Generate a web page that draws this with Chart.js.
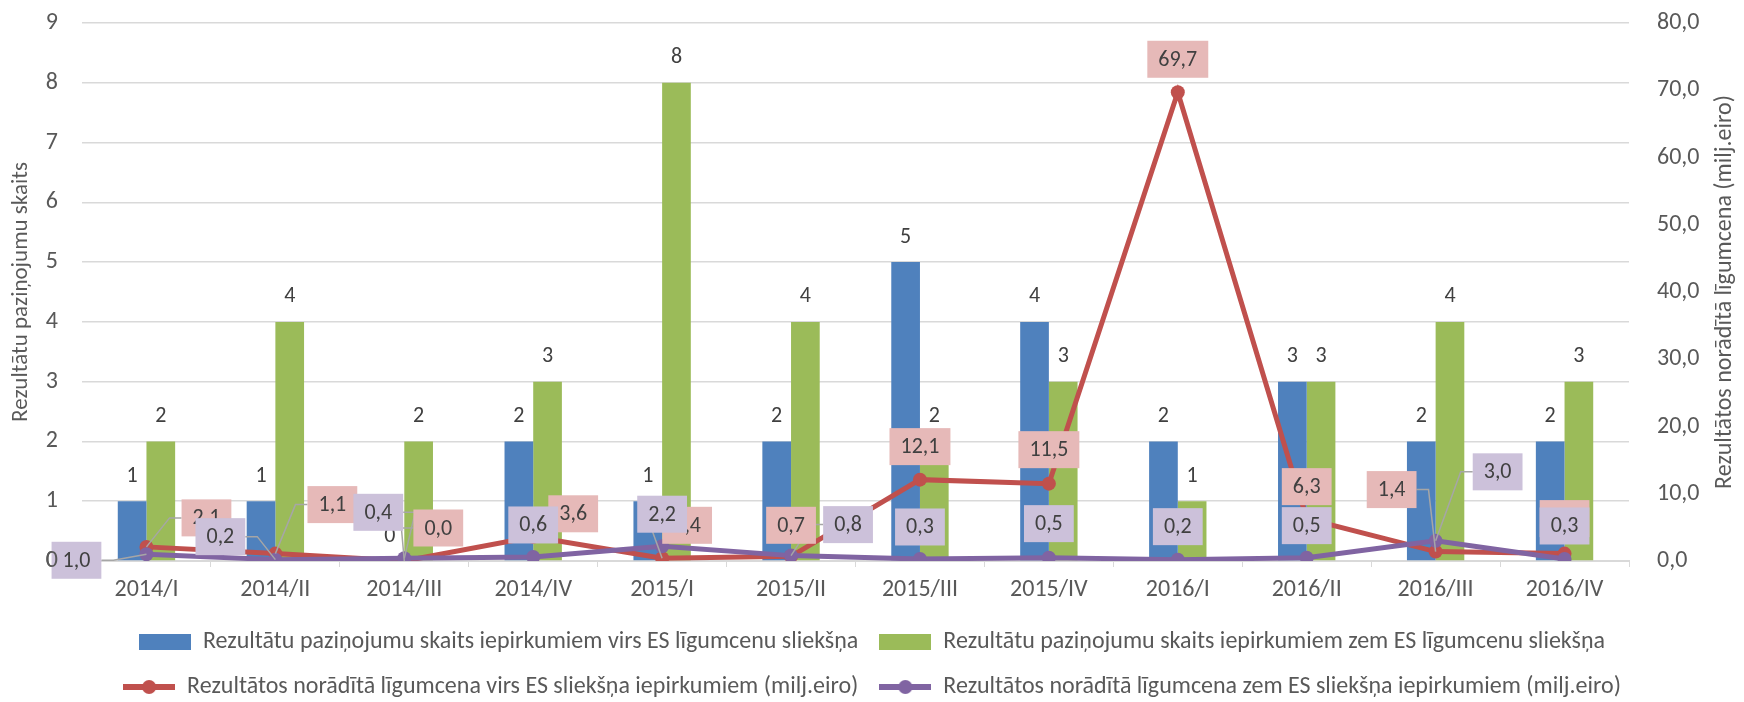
<!DOCTYPE html>
<html>
<head>
<meta charset="utf-8">
<script src="https://cdn.jsdelivr.net/npm/chart.js@4"></script>
<style>
  html, body { margin: 0; padding: 0; background: #fff; }
</style>
</head>
<body>
<canvas id="myChart" width="1744" height="702"></canvas>
<script>
var quarters = ['2014/I', '2014/II', '2014/III', '2014/IV', '2015/I', '2015/II', '2015/III', '2015/IV', '2016/I', '2016/II', '2016/III', '2016/IV'];
var countAbove = [1, 1, 0, 2, 1, 2, 5, 4, 2, 3, 2, 2];
var countBelow = [2, 4, 2, 3, 8, 4, 2, 3, 1, 3, 4, 3];
var priceAbove = [2.1, 1.1, 0.0, 3.6, 0.4, 0.7, 12.1, 11.5, 69.7, 6.3, 1.4, 1.1];
var priceBelow = [1.0, 0.2, 0.4, 0.6, 2.2, 0.8, 0.3, 0.5, 0.2, 0.5, 3.0, 0.3];

// where each value box sits relative to its point (px), like the Excel callouts
var aboveLabelShift = [[60, -29], [57, -49], [34, -33], [40, -23], [25, -33], [0, -31], [0, -33], [0, -34], [0, -33], [0, -32], [-44, -62], [0, -35]];
var belowLabelShift = [[-70, 6], [-55, -23], [-26, -46], [0, -32], [0, -32], [57, -31], [0, -32], [0, -34], [0, -33], [0, -32], [62, -69], [0, -33]];

var FONT = 'Carlito, Lato, sans-serif';
var fmt = function (v) { return v.toFixed(1).replace('.', ','); };

function swatch(color, isLine) {
    var c = document.createElement('canvas');
    c.width = 52; c.height = 16;
    var g = c.getContext('2d');
    g.fillStyle = color;
    if (isLine) {
        g.fillRect(0, 5, 52, 6);
        g.beginPath();
        g.arc(26, 8, 7, 0, Math.PI * 2);
        g.fill();
    } else {
        g.fillRect(0, 0, 52, 16);
    }
    return c;
}

var valueLabels = {
    id: 'valueLabels',
    afterDatasetsDraw: function (chart) {
        var ctx = chart.ctx;
        ctx.save();
        ctx.font = '22px ' + FONT;
        ctx.textAlign = 'center';
        ctx.textBaseline = 'middle';
        ctx.fillStyle = '#404040';
        [0, 1].forEach(function (di) {
            chart.getDatasetMeta(di).data.forEach(function (bar, i) {
                ctx.fillText(String(chart.data.datasets[di].data[i]), bar.x, bar.y - 25);
            });
        });

        var boxes = [];
        [[2, aboveLabelShift, '#E6B9B8'], [3, belowLabelShift, '#CCC1DA']].forEach(function (s) {
            chart.getDatasetMeta(s[0]).data.forEach(function (pt, i) {
                var txt = fmt(chart.data.datasets[s[0]].data[i]);
                var w = ctx.measureText(txt).width + 22, h = 37;
                boxes.push({txt: txt, fill: s[2], px: pt.x, py: pt.y, dx: s[1][i][0],
                    cx: pt.x + s[1][i][0], cy: pt.y + s[1][i][1], w: w, h: h});
            });
        });

        // leader lines
        ctx.strokeStyle = '#A6A6A6';
        ctx.lineWidth = 1.5;
        boxes.forEach(function (b) {
            if (b.dx === 0) return;
            var hw = b.w / 2;
            ctx.beginPath();
            if (b.dx > hw) {
                ctx.moveTo(b.cx - hw, b.cy);
                ctx.lineTo(b.cx - hw - 12, b.cy);
            } else if (b.dx < -hw) {
                ctx.moveTo(b.cx + hw, b.cy);
                ctx.lineTo(b.cx + hw + 12, b.cy);
            } else {
                ctx.moveTo(b.cx, b.cy + b.h / 2);
            }
            ctx.lineTo(b.px, b.py);
            ctx.stroke();
        });

        boxes.forEach(function (b) {
            ctx.fillStyle = b.fill;
            ctx.fillRect(b.cx - b.w / 2, b.cy - b.h / 2, b.w, b.h);
            ctx.fillStyle = '#404040';
            ctx.fillText(b.txt, b.cx, b.cy + 1);
        });

        // the "0" tick of the left axis sits on top of the first box
        var y = chart.scales.y;
        ctx.font = '24px ' + FONT;
        ctx.fillStyle = '#595959';
        ctx.textAlign = 'right';
        ctx.fillText('0', chart.chartArea.left - 24, y.getPixelForValue(0));
        ctx.restore();
    },
    afterDraw: function (chart) {
        var ctx = chart.ctx;
        var area = chart.chartArea;
        ctx.save();
        ctx.font = '24px ' + FONT;
        ctx.fillStyle = '#595959';
        ctx.textAlign = 'center';
        ctx.textBaseline = 'middle';
        ctx.translate(1725, (area.top + area.bottom) / 2);
        ctx.rotate(-Math.PI / 2);
        ctx.fillText('Rezultātos norādītā līgumcena (milj.eiro)', 0, 0);
        ctx.restore();
    }
};

var ctx = document.getElementById('myChart');
var chart = new Chart(ctx, {
    type: 'bar',
    data: {
        labels: quarters,
        datasets: [{
            label: 'Rezultātu paziņojumu skaits iepirkumiem virs ES līgumcenu sliekšņa',
            data: countAbove,
            backgroundColor: '#4F81BD',
            yAxisID: 'y',
            order: 3,
            categoryPercentage: 0.445,
            barPercentage: 1
        }, {
            label: 'Rezultātu paziņojumu skaits iepirkumiem zem ES līgumcenu sliekšņa',
            data: countBelow,
            backgroundColor: '#9BBB59',
            yAxisID: 'y',
            order: 3,
            categoryPercentage: 0.445,
            barPercentage: 1
        }, {
            type: 'line',
            label: 'Rezultātos norādītā līgumcena virs ES sliekšņa iepirkumiem (milj.eiro)',
            data: priceAbove,
            borderColor: '#C0504D',
            backgroundColor: '#C0504D',
            borderWidth: 5,
            pointRadius: 7,
            pointBorderWidth: 0,
            yAxisID: 'y1',
            order: 2
        }, {
            type: 'line',
            label: 'Rezultātos norādītā līgumcena zem ES sliekšņa iepirkumiem (milj.eiro)',
            data: priceBelow,
            borderColor: '#8064A2',
            backgroundColor: '#8064A2',
            borderWidth: 5,
            pointRadius: 7,
            pointBorderWidth: 0,
            yAxisID: 'y1',
            order: 1
        }]
    },
    options: {
        responsive: false,
        animation: false,
        devicePixelRatio: 1,
        layout: { padding: { top: 23, bottom: -7, left: 0, right: 0 } },
        plugins: {
            tooltip: { enabled: false },
            legend: {
                position: 'bottom',
                labels: {
                    font: { family: FONT, size: 24 },
                    color: '#595959',
                    padding: 21,
                    usePointStyle: true,
                    pointStyleWidth: 52,
                    generateLabels: function (chart) {
                        return chart.data.datasets.map(function (ds, i) {
                            return {
                                text: ds.label,
                                pointStyle: swatch(ds.backgroundColor, ds.type === 'line'),
                                fillStyle: ds.backgroundColor,
                                strokeStyle: ds.backgroundColor,
                                lineWidth: 0,
                                fontColor: '#595959',
                                datasetIndex: i
                            };
                        });
                    }
                }
            }
        },
        scales: {
            x: {
                afterFit: function (s) { s.height = 48; },
                grid: { offset: true, drawOnChartArea: false, tickLength: 6, color: '#D9D9D9' },
                border: { color: '#D9D9D9', width: 2 },
                ticks: { font: { family: FONT, size: 24 }, color: '#595959', padding: 9, maxRotation: 0 }
            },
            y: {
                position: 'left',
                min: 0,
                max: 9,
                afterFit: function (s) { s.width = 82; },
                grid: { color: '#D9D9D9', lineWidth: 1.5, drawTicks: true, tickLength: 24, tickColor: 'transparent' },
                border: { display: false },
                ticks: { stepSize: 1, font: { family: FONT, size: 24 }, color: '#595959', padding: 0 },
                title: {
                    display: true,
                    text: 'Rezultātu paziņojumu skaits',
                    font: { family: FONT, size: 23 },
                    color: '#595959',
                    padding: { top: 7, bottom: 0 }
                }
            },
            y1: {
                position: 'right',
                min: 0,
                max: 80,
                afterFit: function (s) { s.width = 115; },
                grid: { drawOnChartArea: false, drawTicks: true, tickLength: 28, tickColor: 'transparent' },
                border: { display: false },
                ticks: {
                    stepSize: 10,
                    font: { family: FONT, size: 24 },
                    color: '#595959',
                    padding: 0,
                    callback: function (v) { return fmt(v); }
                }
            }
        }
    },
    plugins: [valueLabels]
});
</script>
</body>
</html>
